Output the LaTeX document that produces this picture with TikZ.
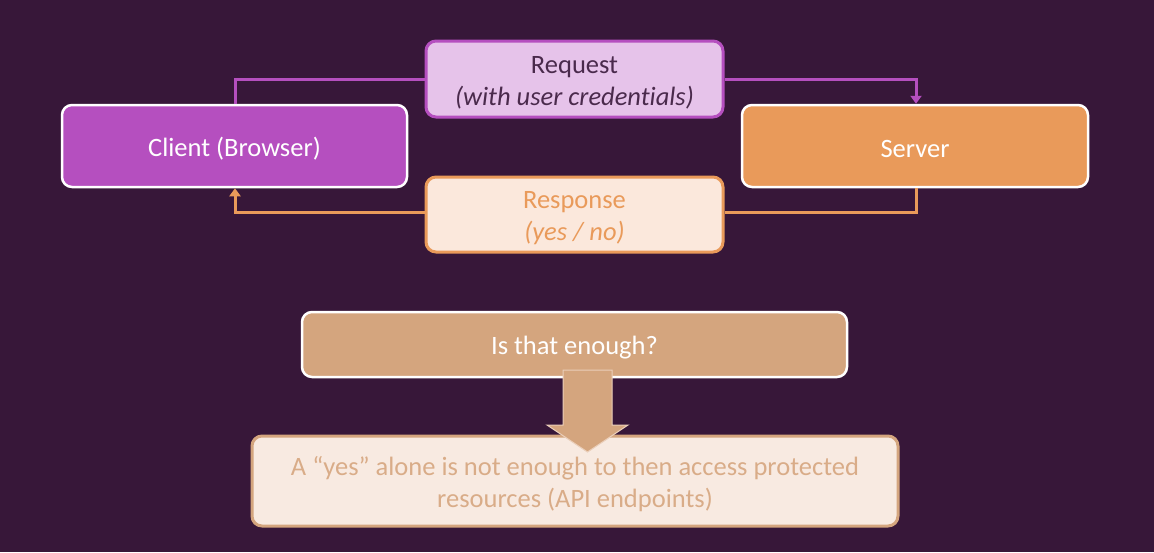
\documentclass[tikz,border=0pt]{standalone}
\usepackage{fontspec}
\setmainfont[Ligatures={NoCommon}]{Carlito}
\usetikzlibrary{arrows.meta}
\definecolor{bg}{HTML}{371739}
\definecolor{clientc}{HTML}{B54FBF}
\definecolor{serverc}{HTML}{E99A5A}
\definecolor{reqfill}{HTML}{E6C3EA}
\definecolor{reqtext}{HTML}{4A2A4C}
\definecolor{respfill}{HTML}{FBE8DC}
\definecolor{qfill}{HTML}{D4A57E}
\definecolor{ansfill}{HTML}{F8EAE1}
\definecolor{anstext}{HTML}{D9AC88}
\tikzset{
  mainbox/.style={draw=white, line width=2.5pt, rounded corners=10pt, inner sep=0pt},
  labelbox/.style={line width=3pt, rounded corners=10pt, inner sep=0pt},
  txt/.style={font=\fontsize{26.5}{32}\selectfont, align=center, inner sep=0pt},
  reqline/.style={draw=clientc, line width=3pt},
  respline/.style={draw=serverc, line width=3pt},
}
\begin{document}
\begin{tikzpicture}[x=1pt,y=-1pt]
\fill[bg] (0,0) rectangle (1154,552);
\useasboundingbox (0,0) rectangle (1154,552);
% main boxes
\node[mainbox, fill=clientc, minimum width=345pt, minimum height=82pt] (client) at (234.5,146) {};
\node[txt, text=white] (clientt) at ([yshift=-3pt]client.center) {Client (Browser)};
\node[mainbox, fill=serverc, minimum width=346pt, minimum height=82pt] (server) at (915,146) {};
\node[txt, text=white] (servert) at ([yshift=-3pt]server.center) {Server};
% label boxes
\node[labelbox, draw=clientc, fill=reqfill, minimum width=297pt, minimum height=76pt] (req) at (574.5,79) {};
\node[txt, text=reqtext] (reqt) at ([yshift=-3.5pt]req.center) {Request\\\textit{(with user credentials)}};
\node[labelbox, draw=serverc, fill=respfill, minimum width=297pt, minimum height=75pt] (resp) at (574.5,214.5) {};
\node[txt, text=serverc] (respt) at ([yshift=-3.5pt]resp.center) {Response\\\textit{(yes / no)}};
% connectors
\coordinate (c1) at (235,79);
\coordinate (s1) at (916,79);
\coordinate (s2) at (916,212);
\coordinate (c2) at (235,212);
\draw[reqline] (client.north -| c1) -- (c1) -- (c1 -| req.west);
\draw[reqline, -{Triangle[length=8pt,width=11pt]}] (s1 -| req.east) -- (s1) -- (server.north -| s1);
\draw[respline] (server.south -| s2) -- (s2) -- (s2 -| resp.east);
\draw[respline, -{Triangle[length=8pt,width=11pt]}] (c2 -| resp.west) -- (c2) -- (client.south -| c2);
% bottom
\node[mainbox, fill=qfill, minimum width=545pt, minimum height=65pt] (q) at (574.5,344.5) {};
\node[txt, text=white] (qt) at ([yshift=-3pt]q.center) {Is that enough?};
\node[labelbox, draw=qfill, fill=ansfill, minimum width=646pt, minimum height=90pt] (ans) at (575,481) {};
\node[txt, text=anstext] (anst) at ([yshift=-3.5pt]ans.center) {A “yes” alone is not enough to then access protected\\resources (API endpoints)};
\fill[qfill, draw=ansfill!60!qfill, line width=1pt] (563,370) -- (612,370) -- (612,425) -- (628,425) -- (587.5,452) -- (547,425) -- (563,425) -- cycle;
\end{tikzpicture}
\end{document}
